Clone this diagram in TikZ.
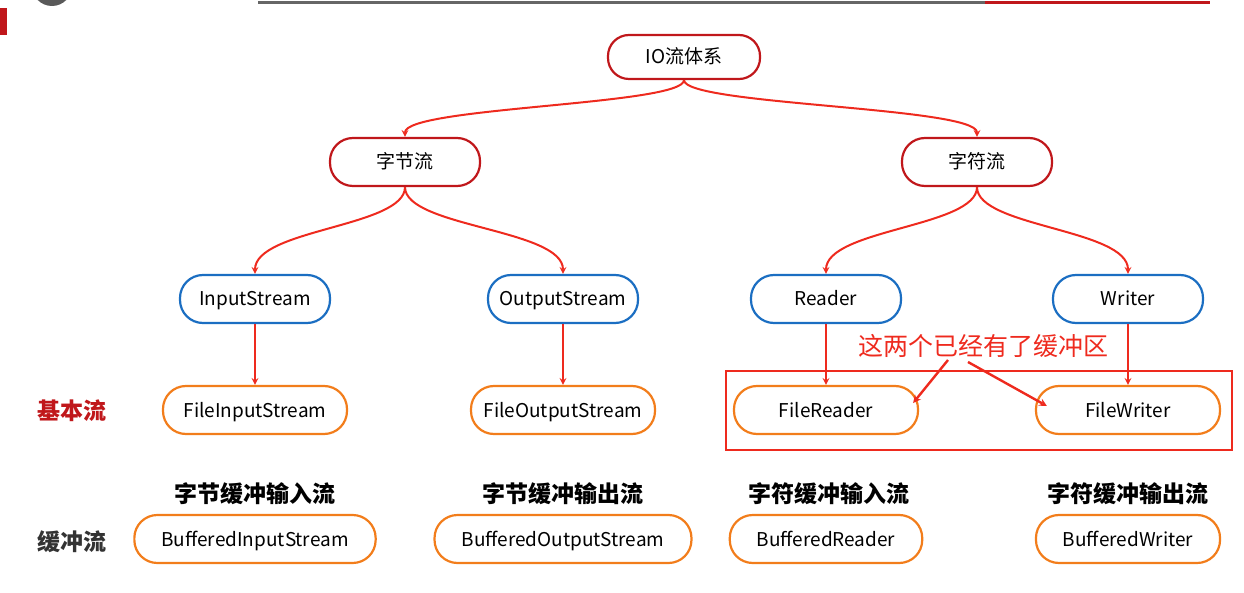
\documentclass[tikz,border=0pt]{standalone}
\usepackage{fontspec}
\setmainfont{Noto Sans CJK SC}
\newfontfamily\heavyfont{Noto Sans CJK SC Black}
\usetikzlibrary{arrows, positioning}
\definecolor{rootred}{HTML}{C0171B}
\definecolor{linkred}{HTML}{EE2A1E}
\definecolor{baseblue}{HTML}{1B6EC2}
\definecolor{fileorange}{HTML}{F27D1B}
\tikzstyle{streambox} = [rectangle, rounded corners=23pt, minimum height=48pt, text height=17pt, text depth=3pt, text centered, line width=2.2pt, font=\fontsize{19}{22}\selectfont]
\tikzstyle{streamroot} = [streambox, minimum width=152pt, minimum height=44pt, rounded corners=21pt, draw=rootred]
\tikzstyle{streamkind} = [streambox, minimum width=150pt, draw=rootred]
\tikzstyle{basestream} = [streambox, minimum width=150pt, draw=baseblue]
\tikzstyle{filestream} = [streambox, minimum width=184pt, draw=fileorange]
\tikzstyle{bufstream} = [streambox, inner xsep=27pt, draw=fileorange]
\tikzstyle{bufhead} = [font=\fontsize{23}{26}\selectfont\heavyfont]
\tikzstyle{sidelabel} = [font=\fontsize{23}{26}\selectfont\heavyfont]
\tikzstyle{arrow} = [linkred, line width=2pt, ->, >=stealth]
\tikzstyle{notearrow} = [linkred, line width=2.4pt, ->, >=stealth]

\begin{document}
\begin{tikzpicture}[x=1pt, y=-1pt, node distance=111pt]
	\useasboundingbox (0,0) rectangle (1244,593);
	% slide decoration
	\fill [gray!70!black] (52,-14) circle (20pt);
	\fill [rootred] (0,8) rectangle (7,35);
	\draw [gray!80!black, line width=3pt] (258,3) -- (985,3);
	\draw [rootred, line width=3pt] (985,3) -- (1210,3);

	\node (io) [streamroot] at (684,57) {IO流体系};
	\node (byte) [streamkind] at (405,162) {字节流};
	\node (char) [streamkind] at (977,162) {字符流};

	\node (in) [basestream] at (255,299) {InputStream};
	\node (out) [basestream] at (563,299) {OutputStream};
	\node (rd) [basestream] at (826,299) {Reader};
	\node (wr) [basestream] at (1128,299) {Writer};

	\node (fin) [filestream, below of=in] {FileInputStream};
	\node (fout) [filestream, below of=out] {FileOutputStream};
	\node (frd) [filestream, below of=rd] {FileReader};
	\node (fwr) [filestream, below of=wr] {FileWriter};

	\node (bin) [bufstream, below of=fin, node distance=129pt] {BufferedInputStream};
	\node (bout) [bufstream, below of=fout, node distance=129pt] {BufferedOutputStream};
	\node (brd) [bufstream, below of=frd, node distance=129pt] {BufferedReader};
	\node (bwr) [bufstream, below of=fwr, node distance=129pt] {BufferedWriter};

	\node (binhead) [bufhead, above of=bin, node distance=45pt] {字节缓冲输入流};
	\node (bouthead) [bufhead, above of=bout, node distance=45pt] {字节缓冲输出流};
	\node (brdhead) [bufhead, above of=brd, node distance=45pt, xshift=3pt] {字符缓冲输入流};
	\node (bwrhead) [bufhead, above of=bwr, node distance=45pt] {字符缓冲输出流};

	\node (baselbl) [sidelabel, text=rootred] at (72,411) {基本流};
	\node (buflbl) [sidelabel, text=black!80] at (72,542) {缓冲流};

	\draw [arrow] (io.south) .. controls +(0,25) and +(0,-30) .. (byte.north);
	\draw [arrow] (io.south) .. controls +(0,25) and +(0,-30) .. (char.north);
	\draw [arrow] (byte.south) .. controls +(0,40) and +(0,-45) .. (in.north);
	\draw [arrow] (byte.south) .. controls +(0,40) and +(0,-45) .. (out.north);
	\draw [arrow] (char.south) .. controls +(0,40) and +(0,-45) .. (rd.north);
	\draw [arrow] (char.south) .. controls +(0,40) and +(0,-45) .. (wr.north);

	\draw [arrow] (in) -- (fin);
	\draw [arrow] (out) -- (fout);
	\draw [arrow] (rd) -- (frd);
	\draw [arrow] (wr) -- (fwr);

	% note on the character streams
	\draw [linkred, line width=1.5pt] (726,371) rectangle (1232,450);
	\node (note) [text=linkred, font=\fontsize{25}{28}\selectfont] at (983,346) {这两个已经有了缓冲区};
	\coordinate (notel) at (948,360);
	\coordinate (noter) at (968,362);
	\draw [notearrow] (notel) -- ([xshift=-6pt, yshift=7pt]frd.east);
	\draw [notearrow] (noter) -- ([xshift=12pt, yshift=4pt]fwr.west);
\end{tikzpicture}
\end{document}
